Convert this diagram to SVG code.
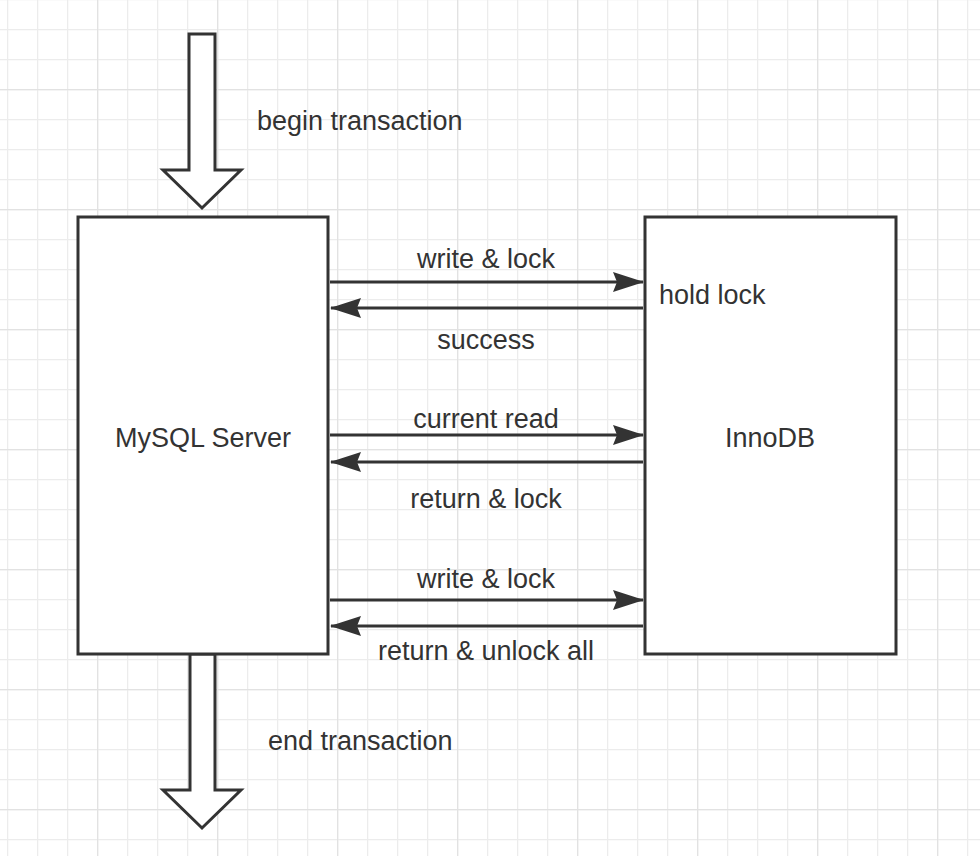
<svg xmlns="http://www.w3.org/2000/svg" width="980" height="856" viewBox="0 0 980 856">
<defs>
<pattern id="g1" x="7" y="29" width="30" height="30" patternUnits="userSpaceOnUse">
<path d="M0.5 0V30M0 0.5H30" stroke="#ececec" stroke-width="1.5" fill="none"/>
</pattern>
<pattern id="g2" x="97" y="89" width="120" height="120" patternUnits="userSpaceOnUse">
<path d="M0.5 0V120M0 0.5H120" stroke="#e2e2e2" stroke-width="1.5" fill="none"/>
</pattern>
<marker id="ah" viewBox="0 0 31 20" markerUnits="userSpaceOnUse" markerWidth="31" markerHeight="20" refX="30" refY="10" orient="auto">
<path d="M0 0L31 10L0 20L4 10Z" fill="#333"/>
</marker>
</defs>
<style>
.box{fill:#fff;stroke:#333;stroke-width:3}
.blk{fill:#fff;stroke:#333;stroke-width:3;stroke-linejoin:miter}
.ln{stroke:#333;stroke-width:3;fill:none}
text{font-family:"Liberation Sans",Arial,sans-serif;font-size:27px;fill:#333}
.c{text-anchor:middle}
</style>
<rect width="980" height="856" fill="#fff"/>
<rect width="980" height="856" fill="url(#g1)"/>
<rect width="980" height="856" fill="url(#g2)"/>

<g id="begin-arrow">
<path class="blk" d="M189 34H215V170H241L202 208L163 170H189Z"/>
<text x="257" y="130">begin transaction</text>
</g>
<g id="end-arrow">
<path class="blk" d="M190 654H215V790H241L202 828L163 790H190Z"/>
<text x="268" y="750">end transaction</text>
</g>
<g id="mysql">
<rect class="box" x="78" y="217" width="250" height="437"/>
<text class="c" x="203" y="447">MySQL Server</text>
</g>
<g id="innodb">
<rect class="box" x="645" y="217" width="251" height="437"/>
<text class="c" x="770" y="447">InnoDB</text>
<text x="659" y="304">hold lock</text>
</g>
<g id="connectors">
<line class="ln" x1="330" y1="282" x2="643" y2="282" marker-end="url(#ah)"/>
<line class="ln" x1="643" y1="308" x2="331" y2="308" marker-end="url(#ah)"/>
<line class="ln" x1="330" y1="435" x2="643" y2="435" marker-end="url(#ah)"/>
<line class="ln" x1="643" y1="462" x2="331" y2="462" marker-end="url(#ah)"/>
<line class="ln" x1="330" y1="600" x2="643" y2="600" marker-end="url(#ah)"/>
<line class="ln" x1="643" y1="626" x2="331" y2="626" marker-end="url(#ah)"/>
<text class="c" x="486" y="268">write &amp; lock</text>
<text class="c" x="486" y="349">success</text>
<text class="c" x="486" y="428">current read</text>
<text class="c" x="486" y="508">return &amp; lock</text>
<text class="c" x="486" y="588">write &amp; lock</text>
<text class="c" x="486" y="660">return &amp; unlock all</text>
</g>
</svg>
